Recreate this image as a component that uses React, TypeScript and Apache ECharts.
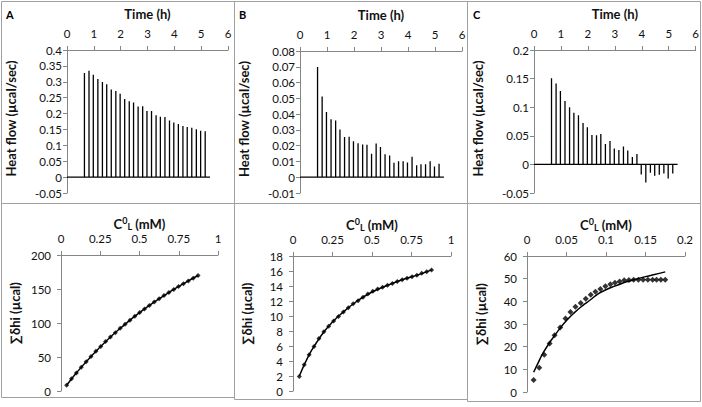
import React, { useEffect, useRef } from "react";
import * as echarts from "echarts";

// ---------- data ----------
const injectionTimes = [0.65, 0.82, 0.98, 1.15, 1.32, 1.48, 1.65, 1.82, 1.98, 2.15, 2.32, 2.48, 2.65, 2.82, 2.98, 3.15, 3.32, 3.48, 3.65, 3.82, 3.98, 4.15, 4.32, 4.48, 4.65, 4.82, 4.98, 5.15];
const baselineEnd = 5.33;

const heatA = [0.328, 0.335, 0.322, 0.309, 0.299, 0.292, 0.276, 0.271, 0.262, 0.246, 0.239, 0.235, 0.222, 0.223, 0.208, 0.208, 0.195, 0.19, 0.189, 0.178, 0.172, 0.167, 0.161, 0.158, 0.155, 0.151, 0.146, 0.144];
const heatB = [0.0698, 0.0512, 0.0413, 0.0367, 0.036, 0.0303, 0.0255, 0.0256, 0.0228, 0.0215, 0.0207, 0.0206, 0.0149, 0.0213, 0.0192, 0.0145, 0.0137, 0.0092, 0.0101, 0.0101, 0.0094, 0.0129, 0.0076, 0.0082, 0.0083, 0.0102, 0.0068, 0.0086];
const heatC = [0.1507, 0.1413, 0.1285, 0.111, 0.0999, 0.0905, 0.0859, 0.0724, 0.0648, 0.0514, 0.0508, 0.0531, 0.0356, 0.0409, 0.028, 0.0251, 0.0315, 0.0245, 0.0128, 0.0181, -0.0175, -0.0315, -0.0146, -0.0199, -0.0181, -0.0158, -0.0245, -0.016];

const concA = [0.036, 0.067, 0.098, 0.129, 0.16, 0.191, 0.222, 0.253, 0.284, 0.315, 0.346, 0.377, 0.408, 0.439, 0.47, 0.501, 0.532, 0.563, 0.594, 0.625, 0.656, 0.687, 0.718, 0.749, 0.78, 0.811, 0.842, 0.873];
const sumA = [8.5, 17.9, 26.6, 34.9, 43.0, 50.9, 58.3, 65.6, 72.7, 79.4, 85.8, 92.2, 98.2, 104.2, 109.8, 115.4, 120.7, 125.8, 130.9, 135.8, 140.4, 145.0, 149.4, 153.6, 157.8, 161.9, 165.9, 169.8];
const fitAx = [0.036, 0.1, 0.2, 0.3, 0.4, 0.5, 0.6, 0.7, 0.8, 0.873];
const fitAy = [8.5, 27.1, 53.0, 76.2, 96.6, 115.2, 131.8, 146.8, 160.5, 169.8];

const concB = [0.04, 0.071, 0.102, 0.133, 0.164, 0.195, 0.226, 0.257, 0.288, 0.319, 0.35, 0.381, 0.412, 0.443, 0.474, 0.505, 0.536, 0.567, 0.598, 0.629, 0.66, 0.691, 0.722, 0.753, 0.784, 0.815, 0.846, 0.877];
const sumB = [1.95, 3.5, 4.85, 5.95, 7.0, 7.9, 8.65, 9.35, 9.95, 10.55, 11.1, 11.65, 12.05, 12.5, 12.95, 13.3, 13.6, 13.85, 14.1, 14.35, 14.6, 14.85, 15.05, 15.25, 15.45, 15.7, 15.9, 16.15];
const fitBx = [0.04, 0.1, 0.15, 0.2, 0.25, 0.3, 0.4, 0.5, 0.6, 0.7, 0.8, 0.877];
const fitBy = [2.0, 4.75, 6.5, 8.0, 9.2, 10.2, 11.9, 13.2, 14.1, 14.9, 15.55, 16.15];

const concC = [0.0084, 0.0155, 0.0218, 0.0286, 0.0349, 0.042, 0.0487, 0.055, 0.0613, 0.068, 0.0744, 0.0807, 0.0866, 0.0929, 0.0992, 0.1055, 0.1113, 0.1172, 0.123, 0.129, 0.135, 0.141, 0.147, 0.153, 0.159, 0.164, 0.1695, 0.175];
const sumC = [5.3, 10.7, 16.4, 21.4, 25.0, 28.5, 32.4, 35.3, 37.6, 39.3, 41.1, 42.9, 44.2, 45.4, 46.6, 47.5, 48.2, 48.8, 49.3, 49.4, 49.5, 49.5, 49.5, 49.5, 49.5, 49.5, 49.5, 49.5];
const fitCx = [0.0084, 0.015, 0.02, 0.03, 0.04, 0.05, 0.06, 0.07, 0.08, 0.09, 0.1, 0.11, 0.12, 0.13, 0.14, 0.15, 0.16, 0.175];
const fitCy = [8.7, 13.5, 17, 22.5, 27.3, 31.5, 35, 38, 40.6, 43.3, 45.1, 46.6, 47.9, 49.0, 50.0, 50.9, 51.7, 53.0];

const panelLetters = ["A", "B", "C"];

// ---------- helpers ----------
const FONT = "Lato, 'Open Sans', sans-serif";
const AXIS_GRAY = "#868686";
const TXT = "#111";

const fmt = (v: number) => String(+v.toFixed(4));

function spikes(values: number[]) {
  const d: number[][] = [[0, 0]];
  injectionTimes.forEach((t, i) => {
    d.push([t, 0], [t, values[i]], [t, 0]);
  });
  d.push([baselineEnd, 0]);
  return d;
}
const pairs = (xs: number[], ys: number[]) => xs.map((x, i) => [x, ys[i]]);

function xAxisCfg(gridIndex: number, name: any, max: number, interval: number, gap: number, rich?: any) {
  return {
    gridIndex,
    type: "value",
    position: "top",
    min: 0,
    max,
    interval,
    name,
    nameLocation: "middle",
    nameGap: gap,
    nameTextStyle: { fontWeight: "bold", fontSize: 13, color: TXT, fontFamily: FONT, rich },
    axisLine: { show: true, onZero: false, lineStyle: { color: AXIS_GRAY, width: 1 } },
    axisTick: { show: true, length: 4, lineStyle: { color: AXIS_GRAY } },
    axisLabel: { margin: 11, fontSize: 11.5, color: TXT, fontFamily: FONT, formatter: fmt },
    splitLine: { show: false },
  };
}
function yAxisCfg(gridIndex: number, name: string, min: number, max: number, interval: number, gap: number, shift: number, margin: number) {
  return {
    gridIndex,
    type: "value",
    min,
    max,
    interval,
    name,
    nameLocation: "middle",
    nameGap: gap,
    nameTextStyle: { fontWeight: "bold", fontSize: 13, color: TXT, fontFamily: FONT, padding: [0, 0, 0, shift] },
    axisLine: { show: true, onZero: false, lineStyle: { color: AXIS_GRAY, width: 1 } },
    axisTick: { show: true, length: 4, lineStyle: { color: AXIS_GRAY } },
    axisLabel: { margin: margin, fontSize: 11.5, color: TXT, fontFamily: FONT, formatter: fmt },
    splitLine: { show: false },
  };
}

const concName = "{b|C}{sup|0}{sub|L}{b| (mM)}";
const concRich = {
  b: { fontWeight: "bold", fontSize: 13, color: TXT, fontFamily: FONT },
  sup: { fontWeight: "bold", fontSize: 9, color: TXT, fontFamily: FONT, verticalAlign: "top", padding: [0, 0, 6, 0] },
  sub: { fontWeight: "bold", fontSize: 9, color: TXT, fontFamily: FONT, verticalAlign: "bottom", padding: [6, 0, 0, 0] },
};

export default function App() {
  const ref = useRef<HTMLDivElement>(null);
  useEffect(() => {
    document.body.style.margin = "0";
    if (!ref.current) return;
    const chart = echarts.init(ref.current, undefined, { renderer: "svg" });

    const grids = [
      { left: 67, top: 50, width: 161, height: 143 },
      { left: 300, top: 51, width: 162, height: 142 },
      { left: 534, top: 50, width: 162, height: 143 },
      { left: 61, top: 255, width: 157, height: 136 },
      { left: 293, top: 256, width: 158, height: 135 },
      { left: 527, top: 256, width: 158, height: 136 },
    ];

    const border = "#a0a0a0";
    const frames = [
      [1, 1, 233, 202],
      [234, 1, 233, 202],
      [467, 1, 233, 202],
      [1, 203, 233, 194],
      [234, 203, 233, 196],
      [467, 203, 233, 198],
    ];

    const spikeStyle = { color: "#000", width: 1.3 };
    const option: any = {
      animation: false,
      backgroundColor: "#fff",
      grid: grids.map((g) => ({ ...g, containLabel: false })),
      xAxis: [
        xAxisCfg(0, "Time (h)", 6, 1, 30),
        xAxisCfg(1, "Time (h)", 6, 1, 30),
        xAxisCfg(2, "Time (h)", 6, 1, 30),
        xAxisCfg(3, concName, 1, 0.25, 24, concRich),
        xAxisCfg(4, concName, 1, 0.25, 24, concRich),
        xAxisCfg(5, concName, 0.2, 0.05, 24, concRich),
      ],
      yAxis: [
        yAxisCfg(0, "Heat flow (µcal/sec)", -0.05, 0.4, 0.05, 50, 6, 5),
        yAxisCfg(1, "Heat flow (µcal/sec)", -0.01, 0.08, 0.01, 50, 6, 5),
        yAxisCfg(2, "Heat flow (µcal/sec)", -0.05, 0.2, 0.05, 50, 6, 5),
        yAxisCfg(3, "∑δhi (µcal)", 0, 200, 50, 40, 20, 10),
        yAxisCfg(4, "∑δhi (µcal)", 0, 18, 2, 40, 20, 10),
        yAxisCfg(5, "∑δhi (µcal)", 0, 60, 10, 40, 20, 10),
      ],
      series: [
        { type: "line", xAxisIndex: 0, yAxisIndex: 0, data: spikes(heatA), showSymbol: false, lineStyle: spikeStyle },
        { type: "line", xAxisIndex: 1, yAxisIndex: 1, data: spikes(heatB), showSymbol: false, lineStyle: spikeStyle },
        { type: "line", xAxisIndex: 2, yAxisIndex: 2, data: spikes(heatC), showSymbol: false, lineStyle: spikeStyle },
        { type: "line", xAxisIndex: 3, yAxisIndex: 3, data: pairs(fitAx, fitAy), smooth: true, showSymbol: false, lineStyle: { color: "#000", width: 1.5 } },
        { type: "scatter", xAxisIndex: 3, yAxisIndex: 3, data: pairs(concA, sumA), symbol: "diamond", symbolSize: 5, itemStyle: { color: "#000" } },
        { type: "line", xAxisIndex: 4, yAxisIndex: 4, data: pairs(fitBx, fitBy), smooth: true, showSymbol: false, lineStyle: { color: "#000", width: 1.5 } },
        { type: "scatter", xAxisIndex: 4, yAxisIndex: 4, data: pairs(concB, sumB), symbol: "diamond", symbolSize: 5, itemStyle: { color: "#000" } },
        { type: "line", xAxisIndex: 5, yAxisIndex: 5, data: pairs(fitCx, fitCy), smooth: true, showSymbol: false, lineStyle: { color: "#000", width: 1.5 } },
        { type: "scatter", xAxisIndex: 5, yAxisIndex: 5, data: pairs(concC, sumC), symbol: "diamond", symbolSize: 6, itemStyle: { color: "#000" } },
      ],
      graphic: [
        ...frames.map((f) => ({
          type: "rect",
          shape: { x: f[0] + 0.5, y: f[1] + 0.5, width: f[2], height: f[3] },
          style: { fill: "none", stroke: border, lineWidth: 1 },
          silent: true,
          z: -1,
        })),
        ...panelLetters.map((l, i) => ({
          type: "text",
          x: [6, 239, 473][i],
          y: 9,
          style: { text: l, font: `bold 11px ${FONT}`, fill: "#000" },
        })),
      ],
    };
    chart.setOption(option);
    return () => chart.dispose();
  }, []);
  return <div ref={ref} style={{ width: 702, height: 407 }} />;
}
